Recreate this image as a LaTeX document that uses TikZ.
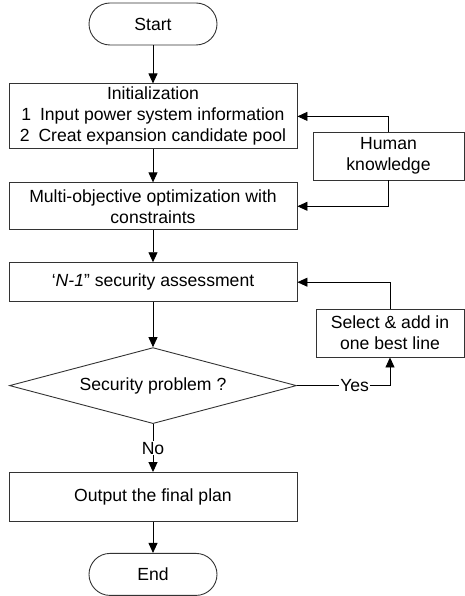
\documentclass[tikz,border=0pt]{standalone}
\usepackage{fontspec}
\setmainfont{Liberation Sans}
\usetikzlibrary{arrows.meta,positioning,shapes.geometric}
\newcommand{\chartfont}{\fontsize{17.6}{21}\selectfont}
\tikzset{
  proc/.style={draw=black!80, line width=0.9pt, minimum width=288pt, minimum height=47pt,
               inner sep=2pt, align=center, font=\chartfont},
  term/.style={draw=black!80, line width=0.9pt, rounded corners=21pt, minimum width=128pt,
               minimum height=42pt, inner sep=2pt, font=\chartfont},
  side/.style={draw=black!80, line width=0.9pt, minimum height=48pt, inner sep=2pt,
               align=center, font=\chartfont},
  check/.style={diamond, aspect=3.78, draw=black!80, line width=0.9pt, minimum width=287pt,
                minimum height=76pt, inner sep=0pt, font=\chartfont},
  flow/.style={-{Triangle[length=10pt,width=9pt]}, line width=0.9pt},
  lbl/.style={fill=white, inner sep=1pt, font=\chartfont}
}
\begin{document}
\begin{tikzpicture}[x=1pt, y=1pt]
  \useasboundingbox (0,0) rectangle (465,-596);
  % main column
  \node[term] (start) at (153,-24) {Start};
  \node[proc, minimum height=65pt, below=38pt of start] (init)
       {Initialization\\1\enspace Input power system information\\2\enspace Creat expansion candidate pool};
  \node[proc, below=33pt of init] (mult) {Multi-objective optimization with\\constraints};
  \node[proc, minimum height=39pt, below=32pt of mult] (nmin)
       {‘\textit{N-1}” security assessment};
  \node[check, below=45pt of nmin] (dec) {Security problem ?};
  \node[proc, minimum height=49pt, below=48pt of dec] (out) {Output the final plan};
  \node[term, below=31pt of out] (fin) {End};
  % side boxes
  \node[side, minimum width=151pt] (hk) at (388.5,-156) {Human\\knowledge};
  \node[side, minimum width=148pt] (sel) at (390,-333) {Select \& add in\\one best line};

  \draw[flow] (start) -- (init);
  \draw[flow] (init) -- (mult);
  \draw[flow] (mult) -- (nmin);
  \draw[flow] (nmin) -- (dec);
  \draw[flow] (dec) -- node[lbl]{No} (out);
  \draw[flow] (out) -- (fin);
  \draw[flow] (hk.north) |- (init.east);
  \draw[flow] (hk.south) |- (mult.east);
  \draw[flow] (dec.east) -| node[lbl, pos=0.31]{Yes} (sel.south);
  \draw[flow] (sel.north) |- (nmin.east);
\end{tikzpicture}
\end{document}
